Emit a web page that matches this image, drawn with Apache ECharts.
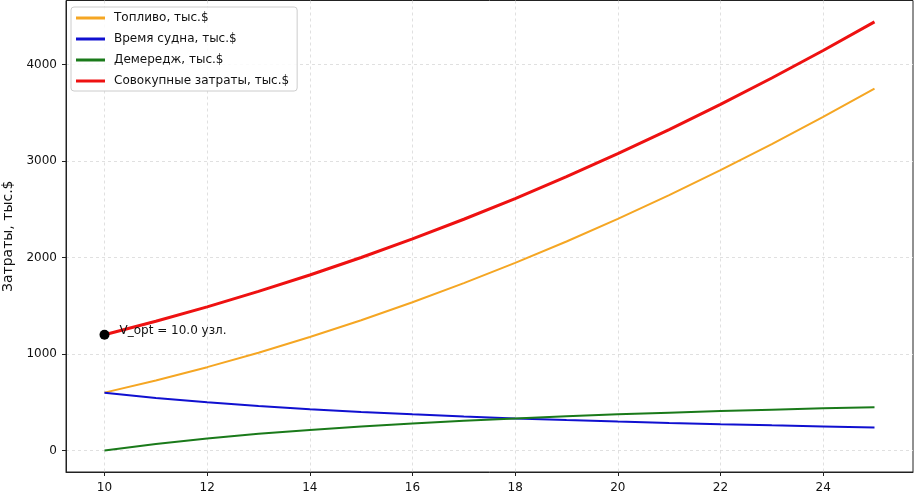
<!DOCTYPE html>
<html>
<head>
<meta charset="utf-8">
<script src="https://cdn.jsdelivr.net/npm/echarts@6/dist/echarts.min.js"></script>
<style>html,body{margin:0;padding:0;background:#fff;}#c{width:917px;height:491px;}</style>
</head>
<body>
<div id="c"></div>
<script>
const speeds = [10, 11, 12, 13, 14, 15, 16, 17, 18, 19, 20, 21, 22, 23, 24, 25];
const fuel = [600, 726, 864, 1014, 1176, 1350, 1536, 1734, 1944, 2166, 2400, 2646, 2904, 3174, 3456, 3750];
const shipTime = [600, 545, 500, 462, 429, 400, 375, 353, 333, 316, 300, 286, 273, 261, 250, 240];
const demurrage = [0, 68, 125, 173, 214, 250, 281, 309, 333, 355, 375, 393, 409, 424, 438, 450];
const total = [1200, 1339, 1489, 1649, 1819, 2000, 2192, 2396, 2610, 2837, 3075, 3325, 3586, 3859, 4144, 4440];
const optPoint = [10, 1200];
const optLabel = 'V_opt = 10.0 узл.';
const xTicks = [10, 12, 14, 16, 18, 20, 22, 24];
const yTicks = [0, 1000, 2000, 3000, 4000];
const seriesNames = ['Топливо, тыс.$', 'Время судна, тыс.$', 'Демередж, тыс.$', 'Совокупные затраты, тыс.$'];
const yAxisTitle = 'Затраты, тыс.$';

const font = 'DejaVu Sans';
const pair = arr => speeds.map((s, i) => [s, arr[i]]);
const lineSeries = (name, data, color, width) => ({
  name, type: 'line', data: pair(data), showSymbol: false, symbol: 'none',
  lineStyle: { color, width }, itemStyle: { color }, smooth: false, animation: false
});

const chart = echarts.init(document.getElementById('c'), null, { renderer: 'canvas' });
chart.setOption({
  animation: false,
  grid: { left: 66, right: 4, top: 0.5, bottom: 19, containLabel: false, outerBoundsMode: 'none',
          show: true, borderColor: '#222', borderWidth: 1, backgroundColor: 'transparent' },
  legend: {
    orient: 'vertical', left: 71, top: 7,
    padding: [4, 8, 3, 5], itemGap: 7, itemWidth: 29, itemHeight: 3,
    backgroundColor: 'rgba(255,255,255,0.85)', borderColor: '#cccccc', borderWidth: 1, borderRadius: 3,
    textStyle: { fontFamily: font, fontSize: 12, color: '#111', lineHeight: 14, padding: [0, 0, 0, 4] },
    data: seriesNames.map(n => ({ name: n, icon: 'rect' }))
  },
  xAxis: {
    type: 'value', min: 9.25, max: 25.75,
    axisLine: { show: true, onZero: false, lineStyle: { color: '#222' } },
    axisTick: { show: true, length: 4, lineStyle: { color: '#222' }, customValues: xTicks },
    axisLabel: { fontFamily: font, fontSize: 12, color: '#111', margin: 10, customValues: xTicks },
    splitLine: { show: true, lineStyle: { type: [3, 3], color: '#d9d9d9', width: 0.8 } }
  },
  yAxis: {
    type: 'value', min: -222, max: 4662,
    name: yAxisTitle, nameLocation: 'middle', nameGap: 51,
    nameTextStyle: { fontFamily: font, fontSize: 14, color: '#111' },
    axisLine: { show: true, onZero: false, lineStyle: { color: '#222' } },
    axisTick: { show: true, length: 4, lineStyle: { color: '#222' }, customValues: yTicks },
    axisLabel: { fontFamily: font, fontSize: 12, color: '#111', margin: 9, customValues: yTicks,
                 formatter: v => String(v) },
    splitLine: { show: true, lineStyle: { type: [3, 3], color: '#d9d9d9', width: 0.8 } }
  },
  series: [
    lineSeries(seriesNames[0], fuel, '#f5a623', 2),
    lineSeries(seriesNames[1], shipTime, '#1010d0', 2),
    lineSeries(seriesNames[2], demurrage, '#1a7a1a', 2),
    lineSeries(seriesNames[3], total, '#ee1111', 3),
    {
      type: 'scatter', data: [optPoint], symbolSize: 10, itemStyle: { color: '#000', opacity: 1 }, z: 5,
      label: { show: true, position: 'right', distance: 10, offset: [0, -4], formatter: optLabel,
               fontFamily: font, fontSize: 12, color: '#111' }
    }
  ]
});
</script>
</body>
</html>
